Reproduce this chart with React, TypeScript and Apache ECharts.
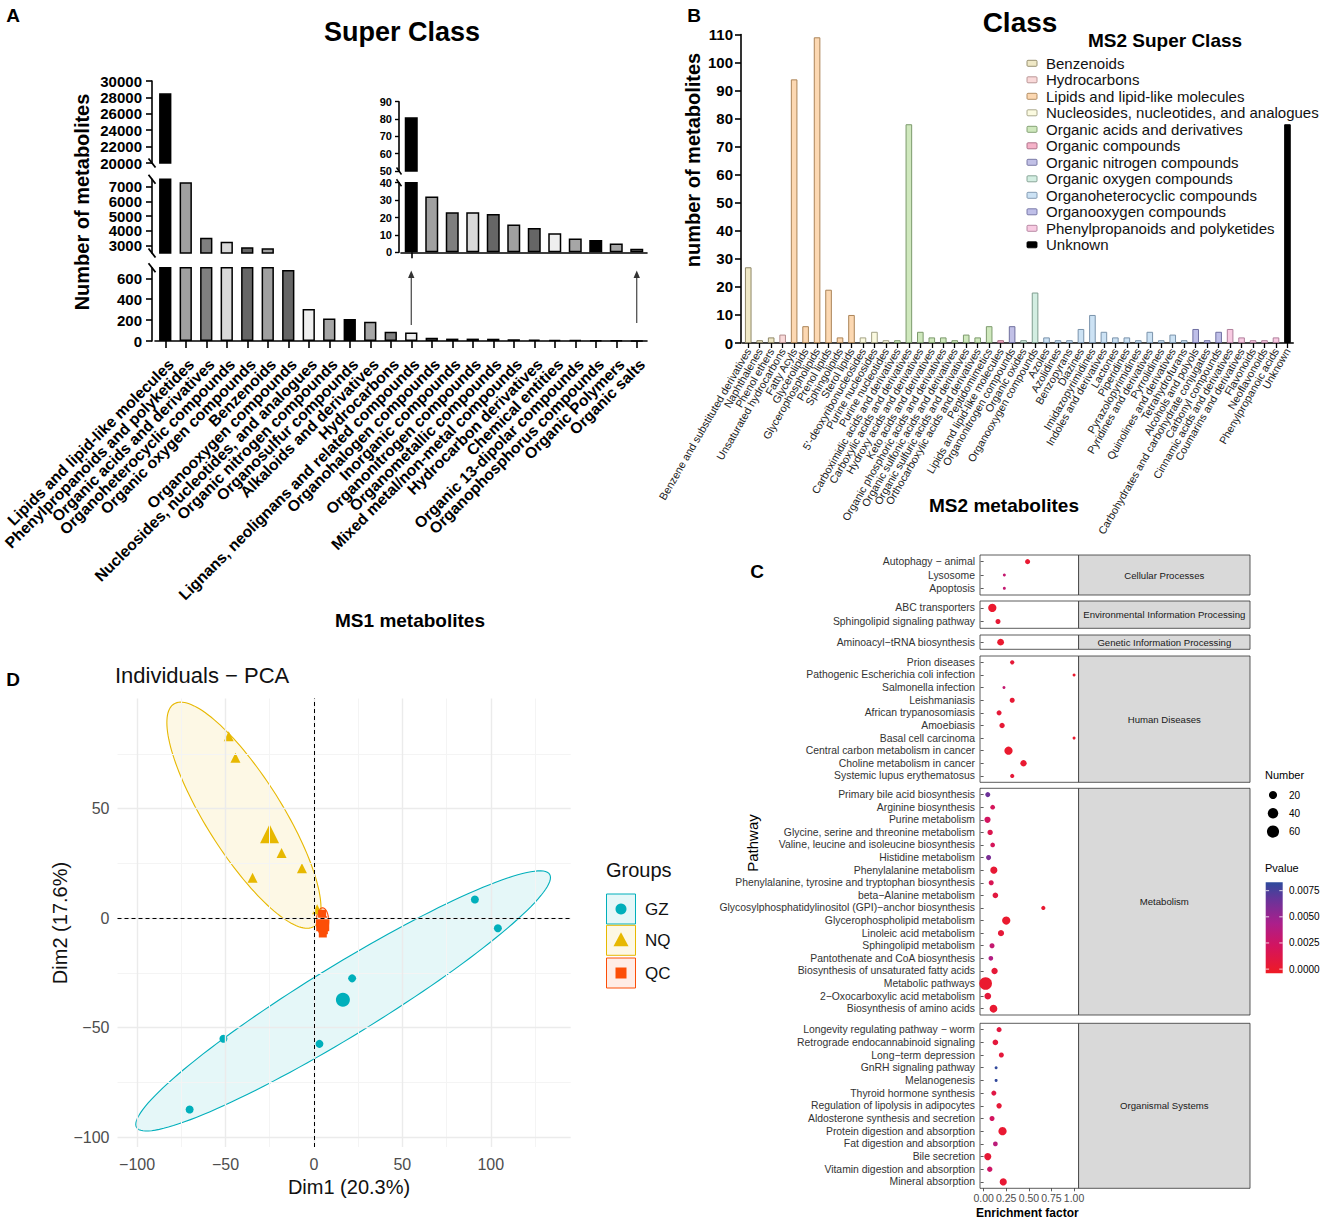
import React, { useEffect, useRef } from 'react';
import * as echarts from 'echarts';

const FONT = '"Liberation Sans", Arial, Helvetica, sans-serif';

/* ================= Panel A : MS1 super classes ================= */
const ms1Categories = [
  'Lipids and lipid-like molecules',
  'Phenylpropanoids and polyketides',
  'Organic acids and derivatives',
  'Organoheterocyclic compounds',
  'Organic oxygen compounds',
  'Benzenoids',
  'Organooxygen compounds',
  'Nucleosides, nucleotides, and analogues',
  'Organic nitrogen compounds',
  'Organosulfur compounds',
  'Alkaloids and derivatives',
  'Hydrocarbons',
  'Lignans, neolignans and related compounds',
  'Organohalogen compounds',
  'Inorganic compounds',
  'Organonitrogen compounds',
  'Organometallic compounds',
  'Mixed metal/non-metal compounds',
  'Hydrocarbon derivatives',
  'Chemical entities',
  'Organic 13-dipolar compounds',
  'Organophosphorus compounds',
  'Organic Polymers',
  'Organic salts',
];
const ms1Values = [28500, 7300, 3540, 3270, 2890, 2820, 678, 305, 216, 210, 184, 88, 81, 32, 23, 23, 22, 16, 14, 11, 8, 7, 5, 2];
const ms1InsetFrom = 12;
const aMidTicks = [3000, 4000, 5000, 6000, 7000];
const aLowTicks = [0, 200, 400, 600];

/* ================= Panel B : MS2 classes ================= */
const ms2SuperClasses = [
  'Benzenoids',
  'Hydrocarbons',
  'Lipids and lipid-like molecules',
  'Nucleosides, nucleotides, and analogues',
  'Organic acids and derivatives',
  'Organic compounds',
  'Organic nitrogen compounds',
  'Organic oxygen compounds',
  'Organoheterocyclic compounds',
  'Organooxygen compounds',
  'Phenylpropanoids and polyketides',
  'Unknown',
];
const ms2Categories = [
  'Benzene and substituted derivatives', 'Naphthalenes', 'Phenol ethers', 'Unsaturated hydrocarbons',
  'Fatty Acyls', 'Glycerolipids', 'Glycerophospholipids', 'Prenol lipids', 'Sphingolipids', 'Sterol lipids',
  "5'-deoxyribonucleosides", 'Purine nucleosides', 'Purine nucleotides',
  'Carboximidic acids and derivatives', 'Carboxylic acids and derivatives', 'Hydroxy acids and derivatives',
  'Keto acids and derivatives', 'Organic phosphoric acids and derivatives', 'Organic sulfonic acids and derivatives',
  'Organic sulfuric acids and derivatives', 'Orthocarboxylic acids and derivatives', 'Peptidomimetics',
  'Lipids and lipid-like molecules', 'Organonitrogen compounds', 'Organic oxides', 'Organooxygen compounds',
  'Azoles', 'Azolidines', 'Benzopyrans', 'Diazines', 'Imidazopyrimidines', 'Indoles and derivatives',
  'Lactones', 'Piperidines', 'Pyrazolopyrimidines', 'Pyridines and derivatives', 'Pyrrolidines',
  'Quinolines and derivatives', 'Tetrahydrofurans', 'Alcohols and polyols',
  'Carbohydrates and carbohydrate conjugates', 'Carbonyl compounds', 'Cinnamic acids and derivatives',
  'Coumarins and derivatives', 'Flavonoids', 'Neoflavonoids', 'Phenylpropanoic acids', 'Unknown',
];
const ms2Values = [27, 1, 2, 3, 94, 6, 109, 19, 2, 10, 2, 4, 1, 1, 78, 4, 2, 2, 1, 3, 2, 6, 1, 6, 1, 18, 2, 1, 1, 5, 10, 4, 2, 2, 1, 4, 1, 3, 1, 5, 1, 4, 5, 2, 1, 1, 2, 78];
const ms2ClassIndex = [0, 0, 0, 1, 2, 2, 2, 2, 2, 2, 3, 3, 3, 4, 4, 4, 4, 4, 4, 4, 4, 4, 5, 6, 7, 7, 8, 8, 8, 8, 8, 8, 8, 8, 8, 8, 8, 8, 8, 9, 9, 9, 10, 10, 10, 10, 10, 11];

/* ================= Panel C : KEGG enrichment ================= */
const keggGroups = [
  'Cellular Processes',
  'Environmental Information Processing',
  'Genetic Information Processing',
  'Human Diseases',
  'Metabolism',
  'Organismal Systems',
];
const keggPathways = [
  'Autophagy \u2212 animal', 'Lysosome', 'Apoptosis',
  'ABC transporters', 'Sphingolipid signaling pathway',
  'Aminoacyl\u2212tRNA biosynthesis',
  'Prion diseases', 'Pathogenic Escherichia coli infection', 'Salmonella infection', 'Leishmaniasis',
  'African trypanosomiasis', 'Amoebiasis', 'Basal cell carcinoma', 'Central carbon metabolism in cancer',
  'Choline metabolism in cancer', 'Systemic lupus erythematosus',
  'Primary bile acid biosynthesis', 'Arginine biosynthesis', 'Purine metabolism',
  'Glycine, serine and threonine metabolism', 'Valine, leucine and isoleucine biosynthesis', 'Histidine metabolism',
  'Phenylalanine metabolism', 'Phenylalanine, tyrosine and tryptophan biosynthesis', 'beta\u2212Alanine metabolism',
  'Glycosylphosphatidylinositol (GPI)\u2212anchor biosynthesis', 'Glycerophospholipid metabolism',
  'Linoleic acid metabolism', 'Sphingolipid metabolism', 'Pantothenate and CoA biosynthesis',
  'Biosynthesis of unsaturated fatty acids', 'Metabolic pathways', '2\u2212Oxocarboxylic acid metabolism',
  'Biosynthesis of amino acids',
  'Longevity regulating pathway \u2212 worm', 'Retrograde endocannabinoid signaling', 'Long\u2212term depression',
  'GnRH signaling pathway', 'Melanogenesis', 'Thyroid hormone synthesis', 'Regulation of lipolysis in adipocytes',
  'Aldosterone synthesis and secretion', 'Protein digestion and absorption', 'Fat digestion and absorption',
  'Bile secretion', 'Vitamin digestion and absorption', 'Mineral absorption',
];
const keggGroupIndex = [
  0, 0, 0, 1, 1, 2,
  3, 3, 3, 3, 3, 3, 3, 3, 3, 3,
  4, 4, 4, 4, 4, 4, 4, 4, 4, 4, 4, 4, 4, 4, 4, 4, 4, 4,
  5, 5, 5, 5, 5, 5, 5, 5, 5, 5, 5, 5, 5,
];
const keggEnrichment = [
  0.486, 0.229, 0.229, 0.096, 0.159, 0.188,
  0.316, 1.0, 0.225, 0.316, 0.171, 0.204, 1.0, 0.275, 0.441, 0.316,
  0.046, 0.1, 0.043, 0.072, 0.1, 0.055, 0.113, 0.084, 0.13, 0.66, 0.25, 0.192, 0.093, 0.08, 0.121, 0.022, 0.046, 0.109,
  0.171, 0.13, 0.196, 0.138, 0.138, 0.113, 0.171, 0.093, 0.209, 0.13, 0.046, 0.068, 0.217,
];
const keggNumber = [
  5, 2, 2, 21, 5, 12,
  3, 2, 2, 5, 5, 6, 2, 21, 10, 3,
  5, 4, 9, 6, 4, 5, 14, 5, 7, 3, 21, 9, 5, 4, 10, 67, 12, 18,
  5, 7, 5, 2, 2, 5, 6, 5, 21, 4, 14, 6, 14,
];
const keggPvalue = [
  0.0002, 0.003, 0.003, 0.0001, 0.0004, 0.0001,
  0.0005, 0.0001, 0.003, 0.0003, 0.0005, 0.0004, 0.0001, 0.0001, 0.0002, 0.0005,
  0.0065, 0.002, 0.0022, 0.0015, 0.002, 0.006, 0.0003, 0.0017, 0.0008, 0.0002, 0.0001, 0.0005, 0.003, 0.004, 0.0005, 0.0001, 0.0006, 0.0002,
  0.0008, 0.0006, 0.0006, 0.0082, 0.0082, 0.001, 0.0005, 0.0022, 0.0002, 0.0035, 0.0004, 0.0025, 0.0003,
];
const numberLegend = [20, 40, 60];
const pvalueTicks = [0, 0.0025, 0.005, 0.0075];
const enrichTicks = [0, 0.25, 0.5, 0.75, 1];

/* ================= Panel D : PCA ================= */
const pcaGroups = ['GZ', 'NQ', 'QC'];
const gzScores = [[91, 8.5], [104, -4.6], [21.6, -27.5], [3.1, -57.4], [-51.2, -55.1], [-70.3, -87.4]];
const nqScores = [[-48.2, 83.1], [-44.4, 73.2], [-18.3, 29.8], [-6.8, 22.8], [-34.7, 18.4], [1.8, 4.1]];
const qcScores = [[4.6, 2.0], [5.2, -1.0], [4.4, -3.5], [5.6, -5.5], [5.0, -7.0]];
// confidence ellipses: [centre x, centre y, major half-axis dx, dy, minor half-axis dx, dy]
const gzEllipse = [16.5, -37.8, 116.8, 57.8, 10.4, -13.7];
const nqEllipse = [-39.6, 47.0, 39.6, -50.8, -18.2, -9.2];
const qcEllipse = [4.85, -1.4, 0, 6.1, 3.5, 0];
const dimXTicks = [-100, -50, 0, 50, 100];
const dimYTicks = [-100, -50, 0, 50];
const gridMajor = [-100, -50, 0, 50, 100];
const gridMinorX = [-75, -25, 25, 75, 125];
const gridMinorY = [-75, -25, 25, 75];

/* ================= styles ================= */
const aColors = ['#000', '#a0a0a0', '#7f7f7f', '#d9d9d9', '#666', '#a0a0a0', '#666', '#efefef', '#a6a6a6', '#000', '#a6a6a6', '#808080',
  '#efefef', '#a0a0a0', '#7f7f7f', '#d9d9d9', '#666', '#a0a0a0', '#666', '#efefef', '#a6a6a6', '#000', '#a6a6a6', '#808080'];
const insetColors = ['#000', '#a0a0a0', '#7f7f7f', '#d9d9d9', '#666', '#a0a0a0', '#666', '#efefef', '#a6a6a6', '#000', '#a6a6a6', '#808080'];
const classFill = ['#efe8c6', '#f9d9d9', '#fcd8b2', '#fbfae0', '#cfe8bd', '#f5b3c9', '#c1c0e6', '#d3eee2', '#cce2f4', '#bfbfe8', '#f8cbe2', '#000'];
const classBorder = ['#8f8868', '#b48e8e', '#ab8458', '#a3a285', '#7c9a6c', '#a86a82', '#6f6f9e', '#7f9d8f', '#7a93ab', '#6f6fa2', '#b07f9c', '#000'];
const groupColors = ['#00AFBB', '#E7B800', '#FC4E07'];
const groupFill = ['rgba(0,175,187,0.1)', 'rgba(231,184,0,0.1)', 'rgba(252,78,7,0.1)'];
const groupSymbol = ['circle', 'triangle', 'rect'];

const P_LOW = -0.0004;
const P_HIGH = 0.0083;
const pStops: [number, string][] = [[0, '#ef1b24'], [0.3, '#d3145f'], [0.55, '#ab1f8b'], [0.8, '#6b3399'], [1, '#2e4a9c']];

function hexRgb(h: string) {
  const n = parseInt(h.slice(1), 16);
  return [(n >> 16) & 255, (n >> 8) & 255, n & 255];
}
function pColor(p: number) {
  let t = (p - P_LOW) / (P_HIGH - P_LOW);
  t = Math.max(0, Math.min(1, t));
  for (let i = 0; i < pStops.length - 1; i++) {
    const [o0, c0] = pStops[i];
    const [o1, c1] = pStops[i + 1];
    if (t <= o1) {
      const f = (t - o0) / (o1 - o0);
      const a = hexRgb(c0), b = hexRgb(c1);
      return `rgb(${a.map((v, k) => Math.round(v + (b[k] - v) * f)).join(',')})`;
    }
  }
  return pStops[pStops.length - 1][1];
}
const numSize = (n: number) => 3 + 1.2 * Math.sqrt(Math.max(n - 2, 0));
const plain = (v: number) => String(v);

/* layout */
const A_L = 155, A_BAND = 20.5, A_W = A_BAND * ms1Categories.length;
const A_GRIDS = [
  { top: 81, height: 82 },
  { top: 179.3, height: 73.7 },
  { top: 267.8, height: 73.2 },
];
const A_MID_RANGE = [2500, 7500];
const IN_L = A_L + ms1InsetFrom * A_BAND, IN_W = A_BAND * (ms1Categories.length - ms1InsetFrom);
const IN_GRIDS = [
  { top: 101.7, height: 69.3 },
  { top: 182.7, height: 69.6 },
];
const B_L = 742.5, B_T = 34.5, B_W = 550.7, B_H = 308.5;
const C_L = 980, C_W = 98.6, C_STRIP_W = 171.4;
const C_TOP = [555, 601, 635, 656, 788.3, 1023.3];
const C_H = [40, 27.3, 14.3, 126.3, 226.7, 165];
const D_L = 117.5, D_T = 698.5, D_W = 453.2, D_H = 448.5;

const txt = (x: number, y: number, text: string, size: number, o: any = {}) => ({
  type: 'text', x, y, silent: true, rotation: o.rotation || 0, z: 50,
  style: {
    text, fill: o.color || '#000', fontSize: size, fontWeight: o.bold ? 'bold' : 'normal',
    fontFamily: FONT, align: o.align || 'center', verticalAlign: o.va || 'middle',
  },
});
const ln = (x1: number, y1: number, x2: number, y2: number, stroke = '#000', w = 1) => ({
  type: 'line', silent: true, z: 50, shape: { x1, y1, x2, y2 }, style: { stroke, lineWidth: w },
});

function buildOption() {
  const grid: any[] = [];
  const xAxis: any[] = [];
  const yAxis: any[] = [];
  const series: any[] = [];
  const graphic: any[] = [];
  const base = { containLabel: false, outerBoundsMode: 'none', show: false };
  const aLabel = {
    fontFamily: FONT, fontWeight: 'bold', fontSize: 15, color: '#000', margin: 10,
    hideOverlap: false, showMinLabel: true, showMaxLabel: true, formatter: plain,
  };

  /* ---------- Panel A ---------- */
  const aYAxis = (gi: number, extra: any) => ({
    type: 'value', gridIndex: gi, offset: 3,
    axisLine: { show: true, lineStyle: { color: '#000', width: 1.6 } },
    axisTick: { show: true, length: 6, lineStyle: { color: '#000', width: 1.6 } },
    axisLabel: { ...aLabel },
    splitLine: { show: false },
    ...extra,
  });
  A_GRIDS.forEach((g, i) => {
    grid.push({ ...base, left: A_L, width: A_W, top: g.top, height: g.height });
    const isLow = i === 2;
    xAxis.push({
      type: 'category', gridIndex: i, data: ms1Categories, show: isLow,
      axisLine: { show: true, lineStyle: { color: '#000', width: 1.6 } },
      axisTick: { show: true, alignWithLabel: true, length: 7, lineStyle: { color: '#000', width: 1.6 } },
      axisLabel: {
        interval: 0, rotate: 45, fontFamily: FONT, fontWeight: 'bold', fontSize: 15.7, color: '#000',
        margin: 15, align: 'right', verticalAlign: 'top', hideOverlap: false,
      },
    });
  });
  yAxis.push(aYAxis(0, { min: 20000, max: 30000, interval: 2000 }));
  // middle segment: ticks drawn by the axis, tick labels placed as texts (the axis thins crowded labels)
  yAxis.push(aYAxis(1, {
    min: A_MID_RANGE[0], max: A_MID_RANGE[1],
    axisTick: { show: true, length: 6, customValues: aMidTicks, lineStyle: { color: '#000', width: 1.6 } },
    axisLabel: { show: false },
  }));
  yAxis.push(aYAxis(2, {
    min: 0, max: 700,
    axisTick: { show: true, length: 6, customValues: aLowTicks, lineStyle: { color: '#000', width: 1.6 } },
    axisLabel: { ...aLabel, customValues: aLowTicks },
  }));
  [0, 1, 2].forEach((gi) => {
    series.push({
      type: 'bar', xAxisIndex: gi, yAxisIndex: gi, barWidth: 12.3, clip: true, silent: true,
      itemStyle: { borderColor: '#000', borderWidth: 1.5 },
      data: ms1Values.map((v, i) => ({ value: v, itemStyle: { color: aColors[i] } })),
    });
  });
  // inset
  const insetCats = ms1Categories.slice(ms1InsetFrom);
  const insetVals = ms1Values.slice(ms1InsetFrom);
  IN_GRIDS.forEach((g, k) => {
    const gi = 3 + k;
    grid.push({ ...base, left: IN_L, width: IN_W, top: g.top, height: g.height });
    xAxis.push({
      type: 'category', gridIndex: gi, data: insetCats, show: k === 1,
      axisLine: { show: true, lineStyle: { color: '#000', width: 1.6 } },
      axisTick: { show: true, alignWithLabel: true, length: 6, lineStyle: { color: '#000', width: 1.6 } },
      axisLabel: { show: false },
    });
    yAxis.push({
      type: 'value', gridIndex: gi, offset: 2,
      min: k === 0 ? 50 : 0, max: k === 0 ? 90 : 40, interval: 10,
      axisLine: { show: true, lineStyle: { color: '#000', width: 1.6 } },
      axisTick: { show: true, length: 4, lineStyle: { color: '#000', width: 1.4 } },
      axisLabel: {
        fontFamily: FONT, fontWeight: 'bold', fontSize: 11, color: '#000', margin: 7,
        hideOverlap: false, showMinLabel: true, showMaxLabel: true,
      },
      splitLine: { show: false },
    });
    series.push({
      type: 'bar', xAxisIndex: gi, yAxisIndex: gi, barWidth: 13, clip: true, silent: true,
      itemStyle: { borderColor: '#000', borderWidth: 1.5 },
      data: insetVals.map((v, i) => ({ value: v, itemStyle: { color: insetColors[i] } })),
    });
  });

  /* ---------- Panel B ---------- */
  grid.push({ ...base, left: B_L, top: B_T, width: B_W, height: B_H });
  xAxis.push({
    type: 'category', gridIndex: 5, data: ms2Categories,
    axisLine: { show: true, lineStyle: { color: '#000', width: 1.6 } },
    axisTick: { show: true, alignWithLabel: true, length: 5, lineStyle: { color: '#000', width: 1.3 } },
    axisLabel: { interval: 0, rotate: 60, fontFamily: FONT, fontSize: 10.8, color: '#222', margin: 6, hideOverlap: false },
  });
  yAxis.push({
    type: 'value', gridIndex: 5, min: 0, max: 110, interval: 10, offset: 1.5,
    axisLine: { show: true, lineStyle: { color: '#000', width: 1.6 } },
    axisTick: { show: true, length: 6, lineStyle: { color: '#000', width: 1.6 } },
    axisLabel: {
      fontFamily: FONT, fontWeight: 'bold', fontSize: 15, color: '#000', margin: 8,
      hideOverlap: false, showMinLabel: true, showMaxLabel: true,
    },
    splitLine: { show: false },
  });
  series.push({
    type: 'bar', xAxisIndex: 5, yAxisIndex: 5, barWidth: 6.6, silent: true,
    data: ms2Values.map((v, i) => ({
      value: v,
      itemStyle: { color: classFill[ms2ClassIndex[i]], borderColor: classBorder[ms2ClassIndex[i]], borderWidth: 1 },
    })),
  });

  /* ---------- Panel C ---------- */
  keggGroups.forEach((gname, f) => {
    const gi = 6 + f;
    const rows = keggPathways.map((_, i) => i).filter((i) => keggGroupIndex[i] === f);
    const last = f === keggGroups.length - 1;
    grid.push({
      ...base, show: true, left: C_L, width: C_W, top: C_TOP[f], height: C_H[f],
      borderColor: '#333', borderWidth: 0.8, backgroundColor: '#fff',
    });
    xAxis.push({
      type: 'value', gridIndex: gi, min: -0.04, max: 1.05,
      axisLine: { show: false },
      axisTick: { show: last, length: 3, customValues: enrichTicks, lineStyle: { color: '#333', width: 0.8 } },
      axisLabel: {
        show: last, customValues: enrichTicks, formatter: (v: number) => v.toFixed(2),
        hideOverlap: false, showMinLabel: true, showMaxLabel: true,
        fontFamily: FONT, fontSize: 10.5, color: '#4d4d4d', margin: 4,
      },
      splitLine: { show: false },
    });
    yAxis.push({
      type: 'category', gridIndex: gi, inverse: true, data: rows.map((i) => keggPathways[i]),
      axisLine: { show: false },
      axisTick: { show: true, alignWithLabel: true, length: 3, lineStyle: { color: '#333', width: 0.8 } },
      axisLabel: { interval: 0, fontFamily: FONT, fontSize: 10.4, color: '#333', margin: 5, hideOverlap: false },
      splitLine: { show: false },
    });
    series.push({
      type: 'scatter', xAxisIndex: gi, yAxisIndex: gi, silent: true, z: 5,
      symbolSize: (val: number[]) => numSize(val[2]),
      itemStyle: { color: (p: any) => pColor(p.data[3]), opacity: 1 },
      data: rows.map((i, k) => [keggEnrichment[i], k, keggNumber[i], keggPvalue[i]]),
    });
    graphic.push({
      type: 'rect', silent: true, z: 40,
      shape: { x: C_L + C_W, y: C_TOP[f], width: C_STRIP_W, height: C_H[f] },
      style: { fill: '#d9d9d9', stroke: '#333', lineWidth: 0.8 },
    });
    graphic.push(txt(C_L + C_W + C_STRIP_W / 2, C_TOP[f] + C_H[f] / 2, gname, 9.6, { color: '#1a1a1a' }));
  });

  /* ---------- Panel D ---------- */
  grid.push({ ...base, left: D_L, top: D_T, width: D_W, height: D_H });
  const fmtMinus = (v: number) => (v < 0 ? '\u2212' + Math.abs(v) : String(v));
  xAxis.push({
    type: 'value', gridIndex: 12, min: -111.1, max: 145.2,
    axisLine: { show: false },
    axisTick: { show: true, length: 4, customValues: dimXTicks, lineStyle: { color: '#333', width: 1 } },
    axisLabel: {
      customValues: dimXTicks, formatter: fmtMinus, fontFamily: FONT, fontSize: 16, color: '#4d4d4d', margin: 9,
      hideOverlap: false, showMinLabel: true, showMaxLabel: true,
    },
    splitLine: { show: false },
  });
  yAxis.push({
    type: 'value', gridIndex: 12, min: -104.5, max: 100.3,
    axisLine: { show: false },
    axisTick: { show: true, length: 4, customValues: dimYTicks, lineStyle: { color: '#333', width: 1 } },
    axisLabel: {
      customValues: dimYTicks, formatter: fmtMinus, fontFamily: FONT, fontSize: 16, color: '#4d4d4d', margin: 8,
      hideOverlap: false, showMinLabel: true, showMaxLabel: true,
    },
    splitLine: { show: false },
  });
  const minorStyle = { color: '#f4f4f4', width: 1, type: 'solid' };
  const majorStyle = { color: '#ebebeb', width: 1.4, type: 'solid' };
  const gridLineData = [
    ...gridMinorX.map((v) => ({ xAxis: v, lineStyle: minorStyle })),
    ...gridMinorY.map((v) => ({ yAxis: v, lineStyle: minorStyle })),
    ...gridMajor.map((v) => ({ xAxis: v, lineStyle: majorStyle })),
    ...gridMajor.filter((v) => v < 100).map((v) => ({ yAxis: v, lineStyle: majorStyle })),
  ];
  series.push({
    type: 'scatter', xAxisIndex: 12, yAxisIndex: 12, data: [], z: 0, silent: true,
    markLine: {
      silent: true, symbol: ['none', 'none'], label: { show: false }, animation: false,
      lineStyle: { type: 'solid' }, emphasis: { disabled: true }, data: gridLineData,
    },
  });
  const ellipses = [gzEllipse, nqEllipse, qcEllipse];
  ellipses.forEach((e, g) => {
    series.push({
      type: 'custom', xAxisIndex: 12, yAxisIndex: 12, silent: true, z: 2,
      data: [[e[0], e[1]]],
      renderItem: (_params: any, api: any) => {
        const pts: number[][] = [];
        for (let k = 0; k <= 144; k++) {
          const t = (k / 144) * Math.PI * 2;
          pts.push(api.coord([
            e[0] + Math.cos(t) * e[2] + Math.sin(t) * e[4],
            e[1] + Math.cos(t) * e[3] + Math.sin(t) * e[5],
          ]));
        }
        return { type: 'polygon', shape: { points: pts }, style: { fill: groupFill[g], stroke: groupColors[g], lineWidth: 1.1 } };
      },
    });
  });
  series.push({
    type: 'scatter', xAxisIndex: 12, yAxisIndex: 12, data: [], z: 3, silent: true,
    markLine: {
      silent: true, symbol: ['none', 'none'], label: { show: false }, animation: false,
      lineStyle: { color: '#000', width: 1, type: [4, 3] },
      data: [{ xAxis: 0 }, { yAxis: 0 }],
    },
  });
  const groupsData = [gzScores, nqScores, qcScores];
  const smallSize = [8, 10, 8];
  const bigSize = [14, 19, 13];
  groupsData.forEach((pts, g) => {
    series.push({
      type: 'scatter', xAxisIndex: 12, yAxisIndex: 12, silent: true, z: 4,
      symbol: groupSymbol[g], symbolSize: smallSize[g],
      itemStyle: { color: groupColors[g], opacity: 1 }, data: pts,
    });
  });
  groupsData.forEach((pts, g) => {
    const mx = pts.reduce((s, p) => s + p[0], 0) / pts.length;
    const my = pts.reduce((s, p) => s + p[1], 0) / pts.length;
    series.push({
      type: 'scatter', xAxisIndex: 12, yAxisIndex: 12, silent: true, z: 4,
      symbol: groupSymbol[g], symbolSize: bigSize[g],
      itemStyle: { color: groupColors[g], opacity: 1 }, data: [[mx, my]],
    });
  });

  /* ---------- graphics: titles, labels, legends ---------- */
  graphic.push(txt(13, 15, 'A', 19, { bold: true }));
  graphic.push(txt(694, 15, 'B', 19, { bold: true }));
  graphic.push(txt(757, 571, 'C', 19, { bold: true }));
  graphic.push(txt(13, 679, 'D', 19, { bold: true }));

  // Panel A texts
  graphic.push(txt(402, 32, 'Super Class', 27, { bold: true }));
  graphic.push(txt(82, 202, 'Number of metabolites', 20, { bold: true, rotation: Math.PI / 2 }));
  graphic.push(txt(410, 620, 'MS1 metabolites', 19, { bold: true }));
  const axX = A_L - 3;
  // middle-segment tick labels
  const mid = A_GRIDS[1];
  aMidTicks.forEach((v) => {
    const y = mid.top + ((A_MID_RANGE[1] - v) / (A_MID_RANGE[1] - A_MID_RANGE[0])) * mid.height;
    graphic.push(txt(axX - 10, y, String(v), 15, { bold: true, align: 'right' }));
  });
  [A_GRIDS[0].top + A_GRIDS[0].height, A_GRIDS[1].top, A_GRIDS[1].top + A_GRIDS[1].height, A_GRIDS[2].top].forEach((e) => {
    graphic.push(ln(axX - 3.5, e - 4.5, axX + 3.5, e + 4.5, '#000', 1.8));
  });
  const inX = IN_L - 2;
  [IN_GRIDS[0].top + IN_GRIDS[0].height, IN_GRIDS[1].top].forEach((e) => {
    graphic.push(ln(inX - 2.5, e - 3.5, inX + 2.5, e + 3.5, '#000', 1.5));
  });
  [ms1InsetFrom, ms1Categories.length - 1].forEach((i, k) => {
    const x = A_L + (i + 0.5) * A_BAND;
    const y0 = k === 0 ? 325 : 323;
    graphic.push(ln(x, y0, x, 276, '#333', 1.1));
    graphic.push({
      type: 'polygon', silent: true, z: 50,
      shape: { points: [[x, 270.5], [x - 3.2, 278], [x + 3.2, 278]] }, style: { fill: '#333' },
    });
  });

  // Panel B texts
  graphic.push(txt(1020, 22, 'Class', 28, { bold: true }));
  graphic.push(txt(1165, 40, 'MS2 Super Class', 19, { bold: true }));
  graphic.push(txt(693, 160, 'number of metabolites', 20, { bold: true, rotation: Math.PI / 2 }));
  graphic.push(txt(1004, 505, 'MS2 metabolites', 19, { bold: true }));
  ms2SuperClasses.forEach((name, i) => {
    const y = 63.3 + i * 16.5;
    graphic.push({
      type: 'rect', silent: true, z: 50,
      shape: { x: 1027, y: y - 3, width: 10, height: 6, r: 1 },
      style: { fill: classFill[i], stroke: classBorder[i], lineWidth: 0.9 },
    });
    graphic.push(txt(1046, y, name, 15, { align: 'left', color: '#111' }));
  });

  // Panel C texts & legends
  graphic.push(txt(752, 843, 'Pathway', 15, { rotation: Math.PI / 2 }));
  graphic.push(txt(C_L + C_W / 2 - 2, 1213, 'Enrichment factor', 12, { bold: true }));
  graphic.push(txt(1265, 775, 'Number', 11, { align: 'left' }));
  numberLegend.forEach((n, i) => {
    const y = 795 + i * 18.3;
    graphic.push({ type: 'circle', silent: true, z: 50, shape: { cx: 1273, cy: y, r: numSize(n) / 2 }, style: { fill: '#000' } });
    graphic.push(txt(1289, y, String(n), 10, { align: 'left' }));
  });
  graphic.push(txt(1265, 868, 'Pvalue', 11, { align: 'left' }));
  const cbX = 1265.7, cbY = 882.3, cbW = 17, cbH = 91;
  graphic.push({
    type: 'rect', silent: true, z: 50,
    shape: { x: cbX, y: cbY, width: cbW, height: cbH },
    style: {
      fill: {
        type: 'linear', x: 0, y: 1, x2: 0, y2: 0,
        colorStops: pStops.map(([o, c]) => ({ offset: o, color: c })),
      },
    },
  });
  pvalueTicks.forEach((p) => {
    const y = cbY + cbH - ((p - P_LOW) / (P_HIGH - P_LOW)) * cbH;
    graphic.push(ln(cbX, y, cbX + 3.4, y, '#fff', 0.8));
    graphic.push(ln(cbX + cbW - 3.4, y, cbX + cbW, y, '#fff', 0.8));
    graphic.push(txt(1289, y, p.toFixed(4), 10, { align: 'left' }));
  });

  // Panel D texts & legend
  graphic.push(txt(115, 675, 'Individuals \u2212 PCA', 22, { align: 'left', color: '#111' }));
  graphic.push(txt(349, 1187, 'Dim1 (20.3%)', 20, { color: '#111' }));
  graphic.push(txt(60, 923, 'Dim2 (17.6%)', 20, { rotation: Math.PI / 2, color: '#111' }));
  graphic.push(txt(606, 870, 'Groups', 20, { align: 'left', color: '#111' }));
  const keyTop = [894, 925.3, 958];
  pcaGroups.forEach((g, i) => {
    const cy = keyTop[i] + 15;
    graphic.push({
      type: 'rect', silent: true, z: 50,
      shape: { x: 606.5, y: keyTop[i], width: 29, height: 30 },
      style: { fill: groupFill[i], stroke: groupColors[i], lineWidth: 1 },
    });
    if (i === 0) {
      graphic.push({ type: 'circle', silent: true, z: 51, shape: { cx: 621, cy, r: 5.5 }, style: { fill: groupColors[i] } });
    } else if (i === 1) {
      graphic.push({
        type: 'polygon', silent: true, z: 51,
        shape: { points: [[621, cy - 8], [613.5, cy + 6], [628.5, cy + 6]] }, style: { fill: groupColors[i] },
      });
    } else {
      graphic.push({ type: 'rect', silent: true, z: 51, shape: { x: 615.5, y: cy - 5.5, width: 11, height: 11 }, style: { fill: groupColors[i] } });
    }
    graphic.push(txt(645, cy, g, 17, { align: 'left', color: '#111' }));
  });

  return {
    animation: false,
    backgroundColor: '#fff',
    textStyle: { fontFamily: FONT },
    grid, xAxis, yAxis, series, graphic,
  };
}

export default function App() {
  const ref = useRef<HTMLDivElement>(null);
  useEffect(() => {
    if (!ref.current) return;
    const chart = echarts.init(ref.current, undefined, { renderer: 'svg' });
    chart.setOption(buildOption() as any);
    return () => chart.dispose();
  }, []);
  return (
    <div
      ref={ref}
      style={{ position: 'absolute', left: 0, top: 0, width: 1325, height: 1222, background: '#fff' }}
    />
  );
}
